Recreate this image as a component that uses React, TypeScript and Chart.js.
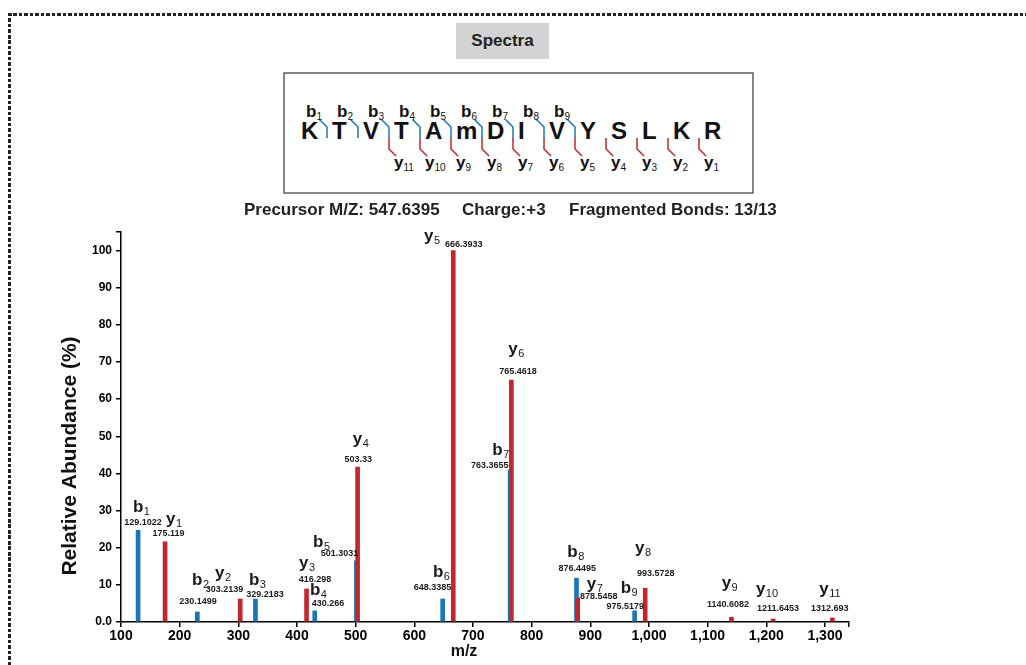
import React, { useEffect, useRef } from 'react';
import { Chart, registerables } from 'chart.js';

Chart.register(...registerables);

const FONT = '"Liberation Sans", Arial, Helvetica, sans-serif';
const BLUE = '#1b75bc';
const RED = '#c1272d';

// ---- data ----
const peptide = ['K', 'T', 'V', 'T', 'A', 'm', 'D', 'I', 'V', 'Y', 'S', 'L', 'K', 'R'];
const precursorText = 'Precursor M/Z: 547.6395';
const chargeText = 'Charge:+3';
const bondsText = 'Fragmented Bonds: 13/13';

const bNames = ['b1', 'b2', 'b3', 'b4', 'b5', 'b6', 'b7', 'b8', 'b9'];
const bMz = [129.1022, 230.1499, 329.2183, 430.266, 501.3031, 648.3385, 763.3655, 876.4495, 975.5179];
const bInt = [24.7, 2.7, 6.2, 3.0, 16.5, 6.2, 40.9, 11.8, 3.0];

const yNames = ['y1', 'y2', 'y3', 'y4', 'y5', 'y6', 'y7', 'y8', 'y9', 'y10', 'y11'];
const yMz = [175.119, 303.2139, 416.298, 503.33, 666.3933, 765.4618, 878.5458, 993.5728, 1140.6082, 1211.6453, 1312.693];
const yInt = [21.6, 6.2, 8.9, 41.7, 100, 65.1, 6.5, 9.1, 1.3, 0.8, 1.1];

const xTicks = [100, 200, 300, 400, 500, 600, 700, 800, 900, 1000, 1100, 1200, 1300];
const yTicks = [0, 10, 20, 30, 40, 50, 60, 70, 80, 90, 100];
const X_MIN = 100;
const X_MAX = 1341;
const Y_MAX = 105;

// label nudges in pixels relative to the bar top: [dx, dy]
const bValueNudge = [[4.9, -8.1], [0.7, -10.3], [9.5, -4.9], [13.2, -7.8], [-16.9, -7.6], [-10.2, -11.9], [-20.5, -4.2], [0.7, -9.8], [-9.3, -4.1]];
const bIonNudge = [[-5.1, -18.1], [-5.3, -27], [-6.5, -13.9], [-4.8, -15.8], [-43.4, -14.1], [-9.7, -22.4], [-17.9, -14.9], [-9.2, -21.6], [-13.9, -17.8]];
const yValueNudge = [[3.4, -8.6], [-15.7, -9.9], [8.4, -9.9], [0.7, -7.9], [10.4, -6], [6.6, -9.1], [21, -1.8], [10.6, -14.8], [-3.5, -12.2], [4.8, -10.7], [-2.7, -9.6]];
const yIonNudge = [[0.9, -17.6], [-25.2, -20.9], [-7.6, -20.9], [-4.9, -23.4], [-29.3, -10], [-3.1, -25.8], [9, -8.8], [-10.2, -35.1], [-9.8, -29.2], [-17.2, -25], [-13.1, -23.9]];

const labelPlugin = {
  id: 'peakLabels',
  afterDatasetsDraw(chart: any) {
    const { ctx, scales } = chart;
    const xs = scales.x;
    const ys = scales.y;
    const drawSet = (mz: number[], intens: number[], names: string[], vN: number[][], iN: number[][]) => {
      mz.forEach((m, i) => {
        const bx = xs.getPixelForValue(m);
        const by = ys.getPixelForValue(intens[i]);
        ctx.save();
        ctx.fillStyle = '#1a1a1a';
        ctx.font = `bold 9px ${FONT}`;
        ctx.textAlign = 'center';
        ctx.textBaseline = 'middle';
        ctx.fillText(String(m), bx + vN[i][0], by + vN[i][1]);
        const letter = names[i][0];
        const sub = names[i].slice(1);
        ctx.font = `bold 17px ${FONT}`;
        ctx.textAlign = 'left';
        ctx.textBaseline = 'alphabetic';
        const lx = bx + iN[i][0];
        const ly = by + iN[i][1];
        ctx.fillText(letter, lx, ly);
        const w = ctx.measureText(letter).width;
        ctx.font = `11px ${FONT}`;
        ctx.fillText(sub, lx + w + 0.5, ly + 3);
        ctx.restore();
      });
    };
    drawSet(bMz, bInt, bNames, bValueNudge, bIonNudge);
    drawSet(yMz, yInt, yNames, yValueNudge, yIonNudge);
  },
  afterDraw(chart: any) {
    const { ctx, chartArea } = chart;
    ctx.save();
    ctx.fillStyle = '#111';
    ctx.font = `bold 21px ${FONT}`;
    ctx.textAlign = 'center';
    ctx.textBaseline = 'middle';
    ctx.translate(chartArea.left - 50.5, chartArea.top + 224);
    ctx.rotate(-Math.PI / 2);
    ctx.fillText('Relative Abundance (%)', 0, 0);
    ctx.restore();
    ctx.save();
    ctx.fillStyle = '#111';
    ctx.font = `bold 16px ${FONT}`;
    ctx.textAlign = 'center';
    ctx.textBaseline = 'middle';
    ctx.fillText('m/z', chartArea.left + 343, chartArea.bottom + 30);
    ctx.restore();
  },
};

function SequenceMap() {
  const bondX = (k: number) => 327 + 31 * (k - 1);
  const bonds = Array.from({ length: 13 }, (_, i) => i + 1);
  return (
    <svg style={{ position: 'absolute', left: 0, top: 0, pointerEvents: 'none' }} width={1026} height={200}>
      <rect x={284} y={73} width={469} height={120} fill="#fff" stroke="#444" strokeWidth={1.3} />
      {peptide.map((aa, i) => (
        <text key={'aa' + i} x={301 + 31 * i} y={139} fontFamily={FONT} fontWeight="bold" fontSize={24} fill="#111">
          {aa}
        </text>
      ))}
      {bonds.map((k) => {
        const m = bondX(k);
        const hasB = k <= 9;
        const hasY = k >= 3;
        const yIdx = 14 - k;
        return (
          <g key={'bond' + k}>
            {hasB && (
              <>
                <path d={`M ${m - 7.5} 119.5 L ${m} 127 L ${m} 138`} fill="none" stroke={BLUE} strokeWidth={1.5} />
                <text x={m - 21} y={116.5} fontFamily={FONT} fontWeight="bold" fontSize={17} fill="#111">
                  b<tspan fontSize={10} fontWeight="normal" dy={3}>{k}</tspan>
                </text>
              </>
            )}
            {hasY && (
              <>
                <path d={`M ${m} 138 L ${m} 149 L ${m + 7} 156`} fill="none" stroke={RED} strokeWidth={1.5} />
                <text x={m + 5} y={168} fontFamily={FONT} fontWeight="bold" fontSize={17} fill="#111">
                  y<tspan fontSize={10} fontWeight="normal" dy={3}>{yIdx}</tspan>
                </text>
              </>
            )}
          </g>
        );
      })}
    </svg>
  );
}

export default function App() {
  const ref = useRef<HTMLCanvasElement>(null);
  useEffect(() => {
    const canvas = ref.current;
    if (!canvas) return;
    const chart = new Chart(canvas, {
      type: 'bar',
      data: {
        datasets: [
          { label: 'b ions', data: bMz.map((x, i) => ({ x, y: bInt[i] })), backgroundColor: BLUE, order: 1, barThickness: 4, grouped: false } as any,
          { label: 'y ions', data: yMz.map((x, i) => ({ x, y: yInt[i] })), backgroundColor: RED, order: 0, barThickness: 4, grouped: false } as any,
        ],
      },
      options: {
        responsive: false,
        animation: false,
        layout: { padding: { left: 0, top: 232, right: 177, bottom: 0 } },
        plugins: { legend: { display: false }, tooltip: { enabled: false } },
        scales: {
          x: {
            type: 'linear',
            min: X_MIN,
            max: X_MAX,
            offset: false,
            afterBuildTicks: (s: any) => {
              s.ticks = [...xTicks, X_MAX].map((v) => ({ value: v }));
            },
            afterFit: (s: any) => {
              s.height = 43;
            },
            ticks: {
              autoSkip: false,
              maxRotation: 0,
              minRotation: 0,
              padding: 1,
              color: '#000',
              font: { family: FONT, size: 14, weight: 'bold' },
              callback: (v: any) => (xTicks.includes(v) ? Number(v).toLocaleString('en-US') : ''),
            },
            grid: { drawOnChartArea: false, drawTicks: true, tickLength: 5, color: '#000', lineWidth: 1.5, offset: false },
            border: { color: '#000', width: 1.5 },
          },
          y: {
            type: 'linear',
            min: 0,
            max: Y_MAX,
            afterBuildTicks: (s: any) => {
              s.ticks = [...yTicks, Y_MAX].map((v) => ({ value: v }));
            },
            afterFit: (s: any) => {
              s.width = 121;
            },
            ticks: {
              autoSkip: false,
              padding: 4,
              color: '#000',
              font: { family: FONT, size: 12, weight: 'bold' },
              callback: (v: any) => (v === 0 ? '0.0' : yTicks.includes(v) ? String(v) : ''),
            },
            grid: { drawOnChartArea: false, drawTicks: true, tickLength: 5, color: '#000', lineWidth: 1.5 },
            border: { color: '#000', width: 1.5 },
          },
        },
      } as any,
      plugins: [labelPlugin],
    });
    return () => chart.destroy();
  }, []);

  const dotsH = 'repeating-linear-gradient(to right, #222 0px, #222 3.5px, transparent 3.5px, transparent 5.5px)';
  const dotsV = 'repeating-linear-gradient(to bottom, #222 0px, #222 3.5px, transparent 3.5px, transparent 5.5px)';

  return (
    <div style={{ fontFamily: FONT }}>
      <div style={{ position: 'absolute', left: 8, top: 13, width: 1018, height: 3, background: dotsH }} />
      <div style={{ position: 'absolute', left: 8, top: 13, width: 3, height: 700, background: dotsV }} />
      <canvas ref={ref} width={1026} height={665} style={{ position: 'absolute', left: 0, top: 0 }} />
      <div
        style={{
          position: 'absolute', left: 456, top: 23, width: 93, height: 36, background: '#d3d3d3',
          color: '#222', fontWeight: 'bold', fontSize: 17, lineHeight: '36px', textAlign: 'center',
        }}
      >
        Spectra
      </div>
      <SequenceMap />
      <div style={{ position: 'absolute', top: 200, left: 0, width: 1026, height: 22, fontSize: 17, fontWeight: 'bold', color: '#222', lineHeight: '20px', whiteSpace: 'nowrap' }}>
        <span style={{ position: 'absolute', left: 244 }}>{precursorText}</span>
        <span style={{ position: 'absolute', left: 462 }}>{chargeText}</span>
        <span style={{ position: 'absolute', left: 569 }}>{bondsText}</span>
      </div>
    </div>
  );
}
